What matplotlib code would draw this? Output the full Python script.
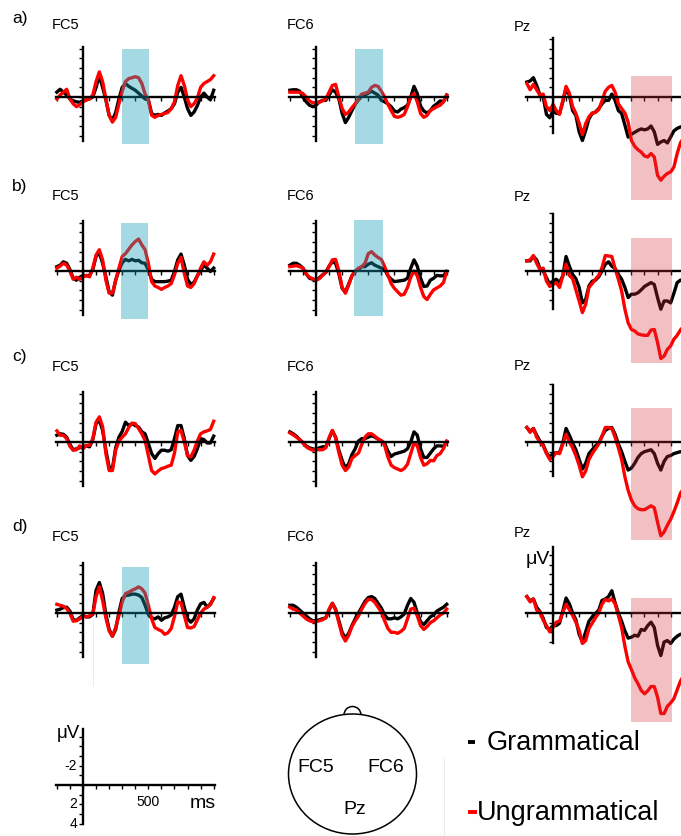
import numpy as np
import matplotlib
matplotlib.use("Agg")
import matplotlib.pyplot as plt
from matplotlib.patches import Rectangle, Ellipse, Arc

plt.rcParams["font.family"] = ["Liberation Sans", "DejaVu Sans"]

# sampling grid of the grand averages (ms)
times = np.arange(-200, 1001, 25)

# grand-average ERPs in microvolts (negative plotted up)
fc5_a_gram = [-0.5, -0.8, -0.5, -0.2, 0.2, 0.4, 0.5, 0.55, 0.4, 0.3, 0.2, 0.0, -1.0, -2.2, -1.0, 0.3, 1.9, 2.4, 1.6, 0.2,
              -1.0, -1.4, -1.1, -0.9, -0.7, -0.4, -0.1, 0.2, 0.3, 1.7, 1.9, 1.8, 1.9, 1.65, 1.45, 1.2, 0.7, -0.5, -1.0, 0.0,
              1.2, 1.9, 1.55, 0.9, 0.0, -0.4, 0.0, 0.3, -0.7]
fc5_a_ungram = [0.2, -0.2, -0.5, -0.8, 0.2, 0.7, 1.0, 0.8, 0.5, 0.3, 0.2, -0.2, -1.6, -2.6, -1.6, 0.2, 1.9, 2.6, 2.1, 0.7,
                -0.6, -1.6, -1.9, -2.0, -2.1, -2.0, -1.4, -0.3, 0.3, 1.9, 2.1, 1.9, 1.8, 1.7, 1.6, 1.2, 0.5, -1.2, -2.2, -1.2,
                0.3, 1.0, 0.7, 0.1, -1.0, -1.4, -1.6, -1.8, -2.2]
fc6_a_gram = [-0.7, -0.75, -0.75, -0.6, 0.0, 0.5, 0.85, 1.0, 0.85, 0.5, 0.35, 0.35, -0.2, -0.75, -0.5, 0.2, 1.7, 2.65, 2.1, 1.4,
              0.75, 0.3, -0.1, -0.2, -0.4, -0.6, -0.4, -0.2, 0.35, 0.5, 0.7, 1.0, 1.45, 1.55, 1.25, 1.1, 0.85, 0.0, -1.1, -0.35,
              0.95, 1.45, 1.65, 1.4, 0.95, 0.7, 0.4, 0.5, -0.2]
fc6_a_ungram = [-0.5, -0.5, -0.5, -0.5, -0.35, 0.0, 0.4, 0.6, 0.6, 0.55, 0.4, 0.2, -0.5, -1.2, -1.3, 0.0, 1.2, 1.8, 1.55, 1.1,
                0.7, 0.2, -0.3, -0.4, -0.5, -1.0, -1.2, -1.1, -0.6, 0.0, 0.75, 1.4, 2.0, 2.1, 2.0, 1.8, 1.0, 0.0, -0.35, 0.5,
                1.7, 2.1, 1.9, 1.4, 1.2, 1.0, 0.85, 0.5, -0.2]
pz_a_gram = [-1.55, -1.65, -2.0, -1.2, -0.2, 0.0, 1.8, 2.15, 1.4, 1.7, 1.7, 0.5, -0.85, -0.2, 1.4, 1.9, 3.6, 4.5, 3.45, 2.25,
             1.7, 1.55, 1.2, 0.7, 0.35, 0.35, -0.3, 0.35, 1.4, 1.7, 2.9, 4.15, 3.85, 3.65, 3.45, 3.3, 3.4, 3.3, 3.0, 3.6,
             4.9, 4.65, 4.5, 4.75, 4.15, 3.5, 3.25, 3.1, 3.0]
pz_a_ungram = [-1.4, -0.75, -1.3, -0.75, -0.2, -0.3, 1.0, 1.4, 0.75, 1.4, 1.8, 0.35, -1.1, -0.4, 1.0, 1.7, 2.7, 3.9, 2.75, 2.05,
               1.65, 1.6, 1.3, 0.4, -0.6, -1.0, -1.2, -0.5, 0.7, 1.2, 1.65, 2.6, 4.5, 5.1, 5.45, 5.7, 6.1, 6.2, 5.85, 6.2,
               8.1, 8.6, 8.2, 7.9, 7.75, 7.25, 5.85, 4.75, 4.2]

fc5_b_gram = [-0.45, -0.6, -0.95, -0.8, -0.15, 0.75, 0.95, 0.65, 0.45, 0.5, 0.45, -0.15, -1.5, -1.9, -0.8, 0.6, 2.15, 2.5, 0.95, -0.1,
              -0.85, -1.2, -1.05, -1.2, -1.05, -1.1, -0.85, -0.8, -0.1, 0.85, 1.1, 1.1, 1.1, 1.1, 1.05, 0.95, 0.05, -1.15, -1.75, -0.6,
              0.85, 1.4, 1.15, 0.5, -0.05, -0.6, -0.3, 0.05, -0.3]
fc5_b_ungram = [-0.3, -0.5, -0.8, -0.6, 0.0, 0.85, 0.65, 0.85, 0.65, 0.45, 0.6, -0.3, -1.65, -2.2, -1.15, 0.95, 2.3, 2.3, 0.95, -0.3,
                -1.5, -1.8, -2.25, -2.7, -3.05, -3.3, -2.7, -2.2, -0.8, 1.1, 1.55, 1.7, 1.9, 1.7, 1.55, 1.3, 0.4, -0.8, -1.4, 0.25,
                1.55, 1.7, 1.3, 0.5, -0.3, -0.95, -0.6, -0.95, -1.75]
fc6_b_gram = [-0.6, -0.8, -0.8, -0.6, -0.3, 0.3, 0.75, 0.85, 0.95, 0.7, 0.4, 0.15, -0.5, -0.95, -0.8, 0.3, 1.8, 2.15, 1.35, 0.5,
              0.05, -0.15, -0.45, -0.45, -0.7, -0.85, -0.6, -0.45, -0.3, -0.2, 0.5, 0.85, 1.1, 1.05, 1.0, 0.95, 0.75, -0.3, -1.15, -0.5,
              0.75, 1.6, 1.55, 0.95, 0.75, 0.45, 0.5, 0.5, 0.05]
fc6_b_ungram = [-0.45, -0.5, -0.55, -0.45, -0.3, 0.3, 0.65, 0.8, 0.95, 0.8, 0.45, 0.1, -0.45, -1.15, -1.2, 0.0, 1.7, 2.3, 1.45, 0.5,
                0.0, -0.3, -0.45, -0.8, -1.8, -2.0, -1.65, -1.4, -1.2, -0.45, 0.4, 1.3, 1.8, 2.15, 2.5, 2.4, 1.7, 0.65, 0.0, 0.5,
                1.7, 2.65, 2.95, 2.4, 1.95, 1.75, 1.55, 1.2, 0.05]
pz_b_gram = [-1.05, -1.05, -1.5, -1.15, -0.25, 0.0, 0.7, 1.4, 1.05, 0.85, 1.2, 0.5, -1.5, -0.5, 0.35, 0.8, 1.7, 3.3, 2.95, 1.55,
             1.05, 0.95, 0.6, 0.0, -0.7, -0.95, -0.5, -0.25, 0.35, 0.85, 1.7, 2.75, 2.4, 2.4, 2.25, 1.95, 1.6, 1.4, 1.2, 1.4,
             2.75, 3.95, 3.1, 3.1, 3.3, 2.3, 1.2, 0.95, 0.85]
pz_b_ungram = [-1.05, -1.15, -1.6, -0.8, -0.15, -0.3, 1.05, 1.6, 1.4, 1.2, 1.7, 0.5, -0.7, 0.45, 0.8, 1.95, 3.1, 4.3, 3.45, 1.7,
               1.3, 0.85, 0.45, -0.35, -1.6, -1.55, -1.5, -0.25, 0.85, 2.05, 3.95, 5.35, 6.05, 6.2, 6.5, 6.6, 6.65, 6.65, 6.1, 6.05,
               7.4, 9.05, 8.8, 8.1, 7.75, 7.05, 6.65, 6.1, 5.7]

fc5_c_gram = [-0.7, -0.85, -0.8, -0.5, 0.25, 0.8, 0.7, 0.6, 0.5, 0.4, 0.5, -0.25, -1.9, -2.3, -1.2, 0.85, 2.6, 2.75, 0.6, -0.5,
              -1.1, -2.05, -1.7, -1.9, -1.7, -1.55, -1.05, -0.85, 0.15, 1.2, 1.7, 1.2, 0.85, 0.85, 0.95, 0.8, -0.35, -1.7, -1.7, -0.35,
              1.4, 1.9, 1.5, 0.7, -0.35, -0.25, 0.1, 0.1, -0.6]
fc5_c_ungram = [-1.15, -0.7, -0.7, -0.35, 0.45, 0.85, 0.8, 0.4, 0.7, 0.35, 0.35, -0.35, -2.05, -2.6, -1.6, 1.2, 2.95, 2.95, 0.85, -0.1,
                -0.5, -0.85, -1.5, -1.95, -1.9, -1.4, -0.85, -0.15, 1.4, 2.95, 3.3, 3.0, 2.75, 2.65, 2.5, 2.4, 1.15, -1.05, -1.2, 0.0,
                1.4, 1.55, 0.85, -0.1, -0.85, -1.05, -1.15, -1.3, -2.15]
fc6_c_gram = [-1.05, -0.85, -0.6, -0.25, 0.05, 0.4, 0.6, 0.7, 0.8, 0.6, 0.5, 0.5, -0.35, -1.15, -0.5, 0.85, 1.9, 2.7, 2.25, 1.3,
              0.7, -0.1, -0.35, -0.35, -0.5, -0.65, -0.5, -0.3, -0.1, 0.1, 0.95, 1.5, 1.25, 1.15, 1.05, 0.95, 0.7, 0.0, -1.05, -0.7,
              0.7, 1.6, 1.6, 1.15, 0.7, 0.4, 0.4, 0.45, 0.0]
fc6_c_ungram = [-0.95, -0.75, -0.5, -0.25, 0.1, 0.5, 0.7, 0.85, 0.8, 0.8, 0.8, 0.6, -0.45, -1.2, -0.45, 1.1, 2.4, 2.95, 2.6, 1.7,
                1.4, 1.15, 0.25, -0.5, -0.85, -0.85, -0.6, -0.3, -0.15, 0.35, 1.55, 2.4, 2.65, 2.8, 2.95, 2.75, 2.3, 1.2, 0.1, 0.4,
                1.6, 2.4, 2.25, 1.9, 1.95, 1.4, 1.2, 0.7, -0.1]
pz_c_gram = [-1.5, -1.1, -1.4, -0.7, -0.1, 0.3, 1.1, 1.6, 1.2, 1.1, 1.1, 0.1, -1.4, -0.7, 0.1, 0.8, 1.8, 2.8, 2.2, 1.2,
             0.8, 0.4, 0.1, -0.6, -1.2, -1.4, -1.5, -0.8, 0.2, 1.0, 2.0, 2.9, 2.7, 2.2, 1.6, 1.2, 1.0, 0.9, 0.8, 1.2,
             2.2, 2.9, 2.0, 1.5, 1.4, 1.2, 1.1, 1.0, 1.0]
pz_c_ungram = [-1.5, -1.0, -1.4, -0.5, 0.0, 0.4, 1.2, 1.8, 1.5, 1.1, 1.2, 0.2, -0.8, 0.0, 0.6, 1.4, 2.4, 3.6, 3.0, 1.8,
               1.2, 0.7, 0.2, -0.6, -1.5, -1.5, -1.4, -0.5, 0.6, 1.8, 3.6, 5.0, 6.0, 6.6, 6.9, 7.0, 7.0, 6.8, 6.6, 6.8,
               8.3, 9.7, 9.3, 8.6, 8.0, 7.2, 6.3, 5.3, 4.8]

fc5_d_gram = [-0.3, -0.4, -0.55, -0.6, -0.2, 0.7, 0.75, 0.5, 0.25, 0.4, 0.4, 0.15, -2.35, -3.15, -2.05, 0.15, 1.7, 2.4, 1.7, -0.1,
              -1.5, -1.8, -1.85, -1.95, -1.95, -1.85, -1.6, -0.8, 0.15, 0.5, 0.6, 0.4, 0.75, 0.5, 0.4, 0.2, -0.6, -1.7, -1.95, -0.6,
              0.6, 0.95, 0.6, -0.3, -0.95, -1.1, -0.6, -0.95, -1.5]
fc5_d_ungram = [-0.9, -0.8, -0.7, -0.45, 0.0, 0.85, 0.8, 0.6, 0.35, 0.4, 0.3, 0.1, -1.7, -2.7, -1.3, 0.5, 1.85, 2.4, 1.5, 0.25,
                -1.15, -2.0, -2.15, -2.35, -2.5, -2.7, -2.5, -2.05, -0.8, 0.6, 1.5, 1.7, 1.85, 2.2, 2.05, 1.6, 0.35, -1.15, -1.05, 0.25,
                1.5, 1.55, 1.4, 0.7, 0.0, -0.4, -0.6, -0.85, -1.6]
fc6_d_gram = [-0.8, -0.8, -0.6, -0.3, 0.0, 0.3, 0.6, 0.8, 0.8, 0.7, 0.6, 0.5, -0.3, -1.0, -0.4, 0.8, 2.0, 2.6, 2.1, 1.3,
              0.6, 0.0, -0.6, -1.2, -1.6, -1.7, -1.5, -1.0, -0.5, 0.2, 0.6, 0.6, 0.5, 0.6, 0.4, 0.1, -0.8, -1.5, -1.1, 0.0,
              0.9, 1.2, 0.8, 0.4, 0.2, -0.2, -0.4, -0.6, -0.9]
fc6_d_ungram = [-0.6, -0.4, -0.3, 0.0, 0.3, 0.6, 0.8, 0.9, 0.9, 0.8, 0.7, 0.5, -0.4, -1.0, -0.3, 1.0, 2.3, 2.9, 2.3, 1.4,
                0.8, 0.3, -0.4, -1.0, -1.4, -1.4, -1.1, -0.6, -0.1, 0.8, 1.6, 2.0, 2.0, 2.1, 1.9, 1.6, 0.6, -0.4, -0.5, 0.3,
                1.3, 1.7, 1.4, 1.0, 0.8, 0.5, 0.2, 0.0, -0.4]
pz_d_gram = [-1.7, -1.25, -1.45, -0.6, -0.15, 0.55, 1.5, 1.7, 1.3, 1.3, 1.05, -0.2, -1.55, -0.95, 0.0, 0.7, 2.2, 3.0, 1.95, 0.85,
             0.4, 0.05, -0.3, -1.3, -1.45, -1.7, -2.3, -1.05, 0.0, 0.85, 1.85, 2.6, 2.5, 2.3, 2.4, 1.7, 1.8, 1.3, 0.95, 1.5,
             3.35, 4.4, 3.0, 2.85, 3.15, 2.7, 2.4, 2.2, 2.15]
pz_d_ungram = [-1.7, -1.15, -1.45, -0.3, -0.1, 0.75, 1.3, 1.95, 1.5, 0.95, 0.85, -0.05, -0.9, -0.35, 0.25, 0.95, 1.8, 3.15, 2.85, 1.6,
               1.05, 0.5, 0.0, -0.9, -1.4, -1.25, -1.45, -0.95, 0.25, 1.5, 3.45, 5.05, 5.85, 6.7, 7.3, 8.0, 8.35, 8.05, 7.6, 7.6,
               8.7, 10.4, 10.4, 9.65, 9.3, 8.85, 7.95, 7.05, 6.45]

row_tags = ["a)", "b)", "c)", "d)"]
electrodes = ["FC5", "FC6", "Pz"]
waves = {
    ("a", "FC5"): (fc5_a_gram, fc5_a_ungram), ("a", "FC6"): (fc6_a_gram, fc6_a_ungram), ("a", "Pz"): (pz_a_gram, pz_a_ungram),
    ("b", "FC5"): (fc5_b_gram, fc5_b_ungram), ("b", "FC6"): (fc6_b_gram, fc6_b_ungram), ("b", "Pz"): (pz_b_gram, pz_b_ungram),
    ("c", "FC5"): (fc5_c_gram, fc5_c_ungram), ("c", "FC6"): (fc6_c_gram, fc6_c_ungram), ("c", "Pz"): (pz_c_gram, pz_c_ungram),
    ("d", "FC5"): (fc5_d_gram, fc5_d_ungram), ("d", "FC6"): (fc6_d_gram, fc6_d_ungram), ("d", "Pz"): (pz_d_gram, pz_d_ungram),
}

# analysis windows: (start ms, end ms, top uV, bottom uV)
lan_windows = {
    ("a", "FC5"): (298, 505, -5.0, 4.9), ("a", "FC6"): (296, 510, -5.0, 4.9),
    ("b", "FC5"): (292, 500, -5.0, 5.0), ("b", "FC6"): (294, 510, -5.3, 4.7),
    ("d", "FC5"): (296, 505, -4.8, 5.3),
}
p600_windows = {
    ("a", "Pz"): (600, 912, -2.2, 10.6), ("b", "Pz"): (600, 912, -3.4, 9.5),
    ("c", "Pz"): (600, 912, -3.5, 10.1), ("d", "Pz"): (600, 912, -1.6, 11.3),
}

# ---- page geometry (pixels) ----
W, H = 681, 836
PX_MS = 0.1307
PX_UV = 9.67
XLIM = (-230, 1040)
YLIM = (12.0, -7.5)
col_x0 = {"FC5": 83, "FC6": 316, "Pz": 553}
row_y0 = {"a": 97, "b": 271, "c": 442, "d": 613}
row_tag_y = [19, 187, 357, 527]
elec_label_y = {"a": [25, 25, 27], "b": [196, 196, 197], "c": [367, 367, 366], "d": [537, 537, 533]}
elec_label_x = [52, 287, 514]
pz_bounds = {"a": (-6.1, 3.7), "b": (-5.9, 3.9), "c": (-5.9, 3.5), "d": (-6.8, 3.1)}

LAN_COLOR = "#14a0b9"
P600_COLOR = "#d72d39"
LINE_W = 2.4

fig = plt.figure(figsize=(W / 100, H / 100), dpi=100)


def erp_axes(x0, y0, ybounds, yticks):
    left = x0 + XLIM[0] * PX_MS
    width = (XLIM[1] - XLIM[0]) * PX_MS
    top = y0 + YLIM[1] * PX_UV
    height = (YLIM[0] - YLIM[1]) * PX_UV
    ax = fig.add_axes([left / W, 1 - (top + height) / H, width / W, height / H])
    ax.set_xlim(*XLIM)
    ax.set_ylim(*YLIM)
    ax.patch.set_alpha(0)
    for side in ("top", "right"):
        ax.spines[side].set_visible(False)
    ax.spines["left"].set_position(("data", 0))
    ax.spines["bottom"].set_position(("data", 0))
    ax.spines["left"].set_bounds(*ybounds)
    ax.spines["bottom"].set_bounds(-205, 1010)
    for side in ("left", "bottom"):
        ax.spines[side].set_linewidth(1.7)
    ax.set_xticks(np.arange(-200, 1001, 100))
    ax.set_yticks(yticks)
    ax.tick_params(direction="out", length=3, width=1.0,
                   labelbottom=False, labelleft=False)
    return ax


for r, row in enumerate("abcd"):
    for elec in electrodes:
        if elec == "Pz":
            bounds = pz_bounds[row]
            ticks = np.arange(-6, 4)
        else:
            bounds = (-5.2, 4.6)
            ticks = np.arange(-5, 5)
        ax = erp_axes(col_x0[elec], row_y0[row], bounds, ticks)
        gram, ungram = waves[(row, elec)]
        ax.plot(times, gram, color="black", lw=LINE_W, zorder=2, solid_joinstyle="round")
        ax.plot(times, ungram, color="red", lw=LINE_W, zorder=2.1, solid_joinstyle="round")
        for windows, colour, alpha in ((lan_windows, LAN_COLOR, 0.38),
                                       (p600_windows, P600_COLOR, 0.30)):
            if (row, elec) in windows:
                t0, t1, v0, v1 = windows[(row, elec)]
                ax.add_patch(Rectangle((t0, v0), t1 - t0, v1 - v0, facecolor=colour,
                                       alpha=alpha, lw=0, zorder=3))
        if row == "d" and elec == "Pz":
            ax.text(-25, -5.5, "μV", ha="right", va="center", fontsize=14)

# calibration axes
cal = erp_axes(83, 785, (-5.8, 4.0), np.arange(-5, 5))
for v, lab in ((-2, "-2"), (2, "2"), (4, "4")):
    cal.text(-45, v, lab, ha="right", va="center", fontsize=10)
cal.text(500, 1.75, "500", ha="center", va="center", fontsize=10)
cal.text(818, 1.95, "ms", ha="left", va="center", fontsize=14)
cal.text(-22, -5.3, "μV", ha="right", va="center", fontsize=13.5)

# overlay in pixel coordinates for labels, head and legend
ov = fig.add_axes([0, 0, 1, 1])
ov.set_xlim(0, W)
ov.set_ylim(H, 0)
ov.axis("off")
ov.patch.set_alpha(0)

for r, row in enumerate("abcd"):
    ov.text(12, row_tag_y[r], row_tags[r], ha="left", va="center", fontsize=12.5)
    for c, elec in enumerate(electrodes):
        ov.text(elec_label_x[c], elec_label_y[row][c], elec, ha="left", va="center", fontsize=10.5)

# electrode map
ov.add_patch(Ellipse((352.5, 774), 128, 120, facecolor="none", edgecolor="black", lw=1.1))
ov.add_patch(Arc((352.5, 715), 17, 17, theta1=180, theta2=360, edgecolor="black", lw=1.1))
ov.text(316, 767, "FC5", ha="center", va="center", fontsize=14)
ov.text(386, 767, "FC6", ha="center", va="center", fontsize=14)
ov.text(355, 810, "Pz", ha="center", va="center", fontsize=14)

# legend
ov.plot([467.5, 474.5], [742, 742], color="black", lw=2.8, solid_capstyle="butt")
ov.text(487, 743, "Grammatical", ha="left", va="center", fontsize=19.5)
ov.plot([468, 477], [812, 812], color="red", lw=2.8, solid_capstyle="butt")
ov.text(477, 813, "Ungrammatical", ha="left", va="center", fontsize=19.5)

# faint guide lines
ov.plot([444, 444], [758, 836], color="#d8d8d8", lw=0.7, ls=(0, (1, 1)))
ov.plot([93, 93], [620, 686], color="#d8d8d8", lw=0.7, ls=(0, (1, 1)))

fig.savefig("out.png", dpi=100)
